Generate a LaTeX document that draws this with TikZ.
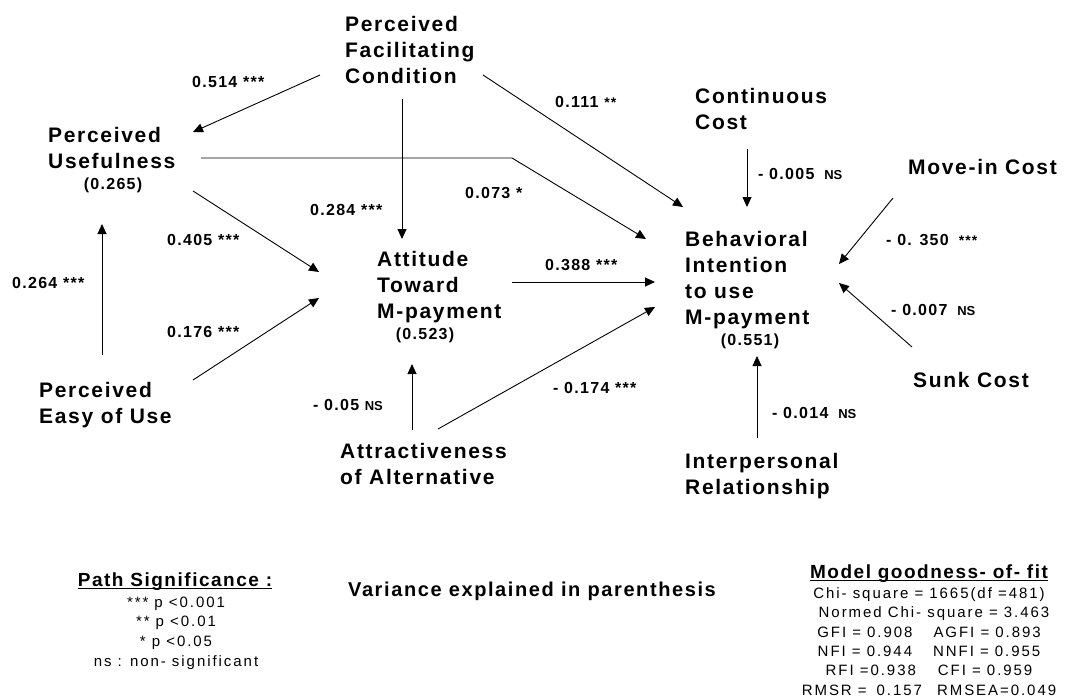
\documentclass[tikz,border=0pt]{standalone}
\usepackage{fontspec}
\setmainfont{Liberation Sans}
\newfontfamily\labfont{Liberation Sans}[LetterSpace=8]
\newfontfamily\legfont{Liberation Sans}[LetterSpace=13]
\newfontfamily\nsfont{Liberation Sans}[LetterSpace=-2]
\usetikzlibrary{arrows.meta,calc}
\newcommand\ulbox[1]{\setbox0\hbox{#1}\rlap{\rule[-2.6pt]{\wd0}{1.3pt}}\box0}
\newcommand\NS{{\nsfont\bfseries\fontsize{13}{15}\selectfont NS}}
\newcommand\sst[1]{{\fontsize{14}{16}\selectfont #1}}
\tikzset{
 lab/.style={font=\labfont\bfseries\fontsize{21}{26}\selectfont, align=left, inner sep=0pt, anchor=north west},
 coef/.style={font=\labfont\bfseries\fontsize{16}{19}\selectfont, inner sep=0pt, anchor=west},
 var/.style={font=\labfont\bfseries\fontsize{16}{19}\selectfont, inner sep=0pt},
 arr/.style={-{Triangle[length=10pt,width=9pt]}, line width=0.9pt},
 head/.style={font=\labfont\bfseries\fontsize{19}{22}\selectfont, inner sep=0pt},
 leg/.style={font=\legfont\fontsize{15}{19.6}\selectfont, align=center, inner sep=0pt},
}
\begin{document}
\begin{tikzpicture}[x=1pt,y=-1pt]
\useasboundingbox[fill=white] (0,0) rectangle (1079,698);
% constructs
\node[lab] (pfc) at (345,16) {Perceived\\Facilitating\\Condition};
\node[lab] (pu) at (48,127) {Perceived\\Usefulness};
\node[lab] (att) at (377,251) {Attitude\\Toward\\M-payment};
\node[lab] (bi) at (685,231) {Behavioral\\Intention\\to use\\M-payment};
\node[lab] (cc) at (695,88) {Continuous\\Cost};
\node[lab] (mic) at (908,159) {Move-in Cost};
\node[lab] (sunk) at (913,372) {Sunk Cost};
\node[lab] (ip) at (685,453) {Interpersonal\\Relationship};
\node[lab] (alt) at (340,443) {Attractiveness\\of Alternative};
\node[lab] (peu) at (39,382) {Perceived\\Easy of Use};
% variance explained
\node[var] (puv) at (113,185) {(0.265)};
\node[var] (attv) at (425,335) {(0.523)};
\node[var] (biv) at (750,341) {(0.551)};
% paths
\draw[arr] ($(pfc.north west)+(-25,59)$) -- ($(pu.north west)+(145,5)$);
\draw[arr] ($(pfc.north west)+(57,83)$) -- ($(att.north west)+(25,-12)$);
\draw[arr] ($(pfc.north west)+(138,59)$) -- ($(bi.north west)+(-2,-24)$);
\draw[arr] ($(pu.north west)+(153,31)$) -- ++(311,0) -- ($(bi.north west)+(-39,8)$);
\draw[arr] ($(pu.north west)+(145,64)$) -- ($(att.north west)+(-58,21)$);
\draw[arr] ($(peu.north west)+(63,-27)$) -- ($(pu.north west)+(54,97)$);
\draw[arr] ($(peu.north west)+(154,-2)$) -- ($(att.north west)+(-58,47)$);
\draw[arr] ($(att.north west)+(135,31)$) -- ($(bi.north west)+(-30,51)$);
\draw[arr] ($(alt.north west)+(72,-13)$) -- ($(att.north west)+(35,113)$);
\draw[arr] ($(alt.north west)+(98,-14)$) -- ($(bi.north west)+(-30,76)$);
\draw[arr] ($(cc.north west)+(52,61)$) -- ($(bi.north west)+(62,-24)$);
\draw[arr] ($(mic.north west)+(-15,39)$) -- ($(bi.north west)+(154,33)$);
\draw[arr] ($(sunk.north west)+(-1,-25)$) -- ($(bi.north west)+(154,52)$);
\draw[arr] ($(ip.north west)+(72,-15)$) -- ($(bi.north west)+(72,125)$);
% coefficients
\node[coef] (c1) at (192,82) {0.514 ***};
\node[coef] (c2) at (310,210) {0.284 ***};
\node[coef] (c3) at (555,102) {0.111 \sst{**}};
\node[coef] (c4) at (465,193) {0.073 *};
\node[coef] (c5) at (167,240) {0.405 ***};
\node[coef] (c6) at (12,283) {0.264 ***};
\node[coef] (c7) at (167,332) {0.176 ***};
\node[coef] (c8) at (545,265) {0.388 ***};
\node[coef] (c9) at (313,405) {- 0.05 \NS};
\node[coef] (c10) at (553,388) {- 0.174 ***};
\node[coef] (c11) at (758,174) {- 0.005\hspace{10pt}\NS};
\node[coef] (c12) at (886,240) {- 0. 350\hspace{10pt}\sst{***}};
\node[coef] (c13) at (891,310) {- 0.007\hspace{10pt}\NS};
\node[coef] (c14) at (772,413) {- 0.014\hspace{10pt}\NS};
% legend
\node[head] (ps) at (175,582) {\ulbox{Path Significance :}};
\node[leg] (psl) at (176,633) {***\hspace{6pt}p <0.001\\** p <0.01\\* p <0.05\\ns : non- significant};
\node[head, font=\labfont\bfseries\fontsize{20}{22}\selectfont, anchor=west] (ve) at (348,591) {Variance explained in parenthesis};
\node[head] (mg) at (929,574) {\ulbox{Model goodness- of- fit}};
\node[leg, font=\legfont\fontsize{15}{19.4}\selectfont] (mgl) at (929,641.5) {Chi- square = 1665(df =481)\\
\hspace*{10pt}Normed Chi- square = 3.463\\
GFI = 0.908\hspace{21pt}AGFI = 0.893\\
NFI = 0.944\hspace{21pt}NNFI = 0.955\\
RFI =0.938\hspace{22pt}CFI = 0.959\\
RMSR =\hspace{10pt}0.157\hspace{15pt}RMSEA=0.049};
\end{tikzpicture}
\end{document}
